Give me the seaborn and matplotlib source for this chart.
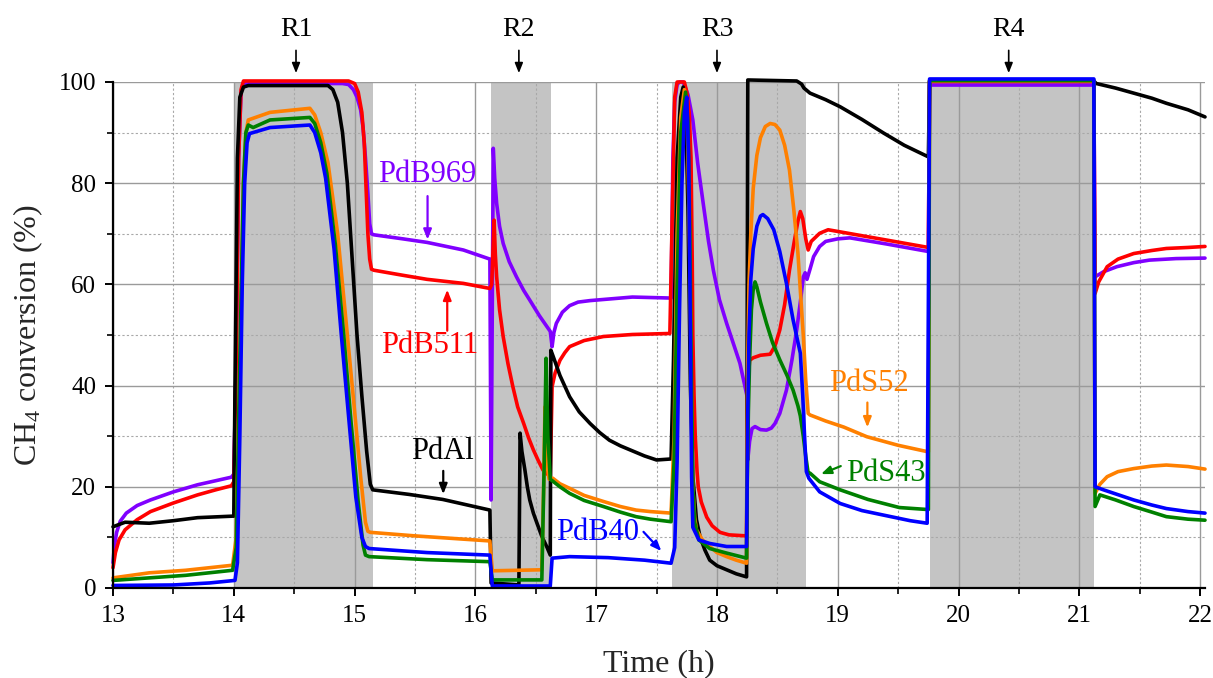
import numpy as np
import pandas as pd
import matplotlib
matplotlib.use('Agg')
import matplotlib.pyplot as plt
import seaborn as sns
from matplotlib.ticker import MultipleLocator

# ---------------- data ----------------
pdb969_t = [13.0, 13.01, 13.03, 13.06, 13.11, 13.2, 13.31, 13.5, 13.7, 13.85, 13.98, 14.0, 14.02, 14.04, 14.06,
            14.08, 14.9, 14.95, 14.99, 15.02, 15.05, 15.07, 15.09, 15.11, 15.125, 15.14, 15.16, 15.4, 15.6,
            15.9, 16.12, 16.13, 16.148, 16.16, 16.176, 16.2, 16.23, 16.28, 16.34, 16.4, 16.45, 16.53, 16.62,
            16.635, 16.65, 16.67, 16.72, 16.78, 16.85, 16.95, 17.1, 17.3, 17.62, 17.635, 17.65, 17.67, 17.69,
            17.72, 17.76, 17.80, 17.84, 17.886, 17.93, 17.97, 18.02, 18.08, 18.14, 18.19, 18.25, 18.255, 18.27,
            18.29, 18.315, 18.36, 18.41, 18.45, 18.48, 18.52, 18.575, 18.62, 18.66, 18.69, 18.715, 18.73, 18.745,
            18.77, 18.80, 18.85, 18.9, 19.0, 19.1, 19.4, 19.75, 19.76, 21.12, 21.13, 21.2, 21.31, 21.45,
            21.58, 21.8, 22.04]
pdb969_v = [5, 8, 11, 13.2, 14.8, 16.3, 17.4, 19, 20.4, 21.2, 21.9, 22.5, 45, 85, 98,
            99.7, 99.7, 99.5, 98.5, 97, 94.5, 91, 85, 78, 72, 70, 69.8, 69, 68.3,
            66.8, 65, 17.4, 86.9, 81, 76, 71.5, 68.1, 64.5, 61.5, 58.8, 56.9, 53.8, 50.7,
            47.7, 50.5, 52.3, 54.5, 55.8, 56.5, 56.8, 57.1, 57.5, 57.3, 85, 96, 99.5, 100,
            100, 97.5, 92.5, 84, 76, 68.5, 62.8, 57, 52.3, 48, 44.4, 37.8, 25.3, 29,
            31.5, 31.9, 31.3, 31.2, 31.6, 32.5, 34.5, 39.1, 45, 51, 56.5, 61.5, 62.3, 61,
            63, 65.5, 67.5, 68.5, 69, 69.2, 68, 66.5, 99.4, 99.4, 61.5, 62.5, 63.5, 64.3,
            64.8, 65.1, 65.2]

pdb511_t = [13.0, 13.02, 13.05, 13.1, 13.2, 13.31, 13.5, 13.7, 13.85, 13.98, 14.0, 14.02, 14.04, 14.06, 14.08,
            14.95, 15.0, 15.03, 15.06, 15.08, 15.09, 15.1, 15.11, 15.125, 15.14, 15.16, 15.4, 15.6, 15.9,
            16.12, 16.135, 16.155, 16.165, 16.176, 16.2, 16.23, 16.27, 16.31, 16.35, 16.4, 16.44, 16.48, 16.52,
            16.56, 16.62, 16.635, 16.66, 16.70, 16.74, 16.78, 16.9, 17.06, 17.3, 17.61, 17.635, 17.65, 17.67,
            17.73, 17.75, 17.77, 17.785, 17.795, 17.80, 17.81, 17.82, 17.835, 17.845, 17.87, 17.915, 17.96, 18.025,
            18.1, 18.245, 18.255, 18.27, 18.3, 18.36, 18.44, 18.48, 18.52, 18.56, 18.60, 18.64, 18.67, 18.69,
            18.71, 18.735, 18.755, 18.78, 18.85, 18.92, 19.3, 19.75, 19.76, 21.12, 21.13, 21.16, 21.23, 21.32,
            21.45, 21.6, 21.72, 21.9, 22.04]
pdb511_v = [4, 7, 9.5, 11.5, 13.5, 15.1, 16.8, 18.4, 19.4, 20.2, 21, 45, 85, 98.5, 100.2,
            100.2, 99.7, 98, 94, 88, 82, 76, 70, 65, 63, 62.8, 61.8, 61, 60.2,
            59.2, 60, 72.7, 66, 61.5, 55, 49.7, 44.3, 39.8, 35.8, 32.5, 29.7, 27.3, 25.2,
            23.3, 22, 39.8, 42.5, 45, 46.5, 47.7, 48.9, 49.7, 50.1, 50.3, 80, 97, 100,
            100, 98, 94, 85, 65, 50, 38, 30, 23, 20, 17, 14, 12.3, 11,
            10.5, 10.3, 40, 45, 45.5, 46, 46.2, 47.8, 51, 56, 62.8, 68.5, 72.5, 74.4,
            73, 69, 66.8, 68.5, 70.1, 70.8, 69.2, 67.3, 100.1, 100.1, 58.2, 60.5, 63.5, 65,
            66.1, 66.7, 67.1, 67.3, 67.5]

pdal_t = [13.0, 13.1, 13.3, 13.5, 13.7, 13.99, 14.0, 14.01, 14.03, 14.05, 14.08, 14.12, 14.78, 14.82, 14.86,
          14.9, 14.94, 14.98, 15.02, 15.06, 15.1, 15.13, 15.15, 15.45, 15.73, 16.12, 16.13, 16.36, 16.37,
          16.385, 16.41, 16.43, 16.45, 16.48, 16.51, 16.55, 16.59, 16.62, 16.625, 16.645, 16.7, 16.78, 16.86,
          16.95, 17.03, 17.11, 17.2, 17.28, 17.4, 17.5, 17.62, 17.64, 17.67, 17.70, 17.72, 17.74, 17.76,
          17.78, 17.80, 17.83, 17.86, 17.9, 17.94, 18.0, 18.08, 18.16, 18.245, 18.255, 18.66, 18.70, 18.72,
          18.74, 18.77, 18.9, 19.02, 19.2, 19.38, 19.55, 19.75, 19.76, 21.12, 21.14, 21.3, 21.45, 21.6,
          21.72, 21.9, 22.04]
pdal_v = [12.1, 13, 12.8, 13.3, 13.9, 14.2, 14.2, 40, 85, 97, 99, 99.3, 99.3, 98.5, 96,
          90, 80, 65, 50, 38, 27, 20.5, 19.4, 18.5, 17.5, 15.4, 1, 0.6, 30.6,
          27, 23.3, 20, 17.4, 14.8, 12.8, 10.2, 8.2, 6.5, 47, 45.7, 42, 37.8, 34.8,
          32.5, 30.7, 29.2, 28.1, 27.3, 26.1, 25.3, 25.5, 45, 85, 97, 99, 95, 75,
          40, 22, 13.5, 10.1, 7.5, 5.5, 4.4, 3.6, 2.8, 2.2, 100.4, 100.2, 99.6, 98.8,
          98.4, 97.8, 96.5, 95.1, 92.6, 89.9, 87.5, 85.2, 100.2, 100.2, 99.7, 98.8, 97.8, 96.8,
          95.8, 94.5, 93.1]

pds52_t = [13.0, 13.3, 13.6, 13.99, 14.02, 14.05, 14.08, 14.1, 14.12, 14.3, 14.63, 14.67, 14.72, 14.78, 14.86,
           14.94, 15.0, 15.05, 15.09, 15.11, 15.13, 15.5, 16.12, 16.14, 16.55, 16.565, 16.576, 16.59, 16.61,
           16.64, 16.7, 16.78, 16.9, 17.06, 17.2, 17.33, 17.45, 17.62, 17.645, 17.67, 17.70, 17.73, 17.755,
           17.775, 17.79, 17.80, 17.815, 17.83, 17.88, 17.94, 18.0, 18.08, 18.16, 18.245, 18.25, 18.255, 18.265,
           18.28, 18.30, 18.33, 18.36, 18.40, 18.44, 18.48, 18.52, 18.56, 18.60, 18.635, 18.67, 18.695, 18.715,
           18.735, 18.755, 18.77, 18.9, 19.05, 19.24, 19.5, 19.75, 19.76, 21.12, 21.13, 21.17, 21.23, 21.32,
           21.45, 21.6, 21.72, 21.9, 22.04]
pds52_v = [2, 3, 3.5, 4.5, 10, 45, 80, 90, 92.5, 94, 94.8, 93.5, 90, 84, 70,
           50, 35, 22, 13, 11.2, 11, 10.3, 9.3, 3.4, 3.6, 20, 35.8, 25, 21.5,
           21.7, 20.6, 19.7, 18.3, 17.1, 16.1, 15.4, 15.1, 14.8, 30, 70, 93, 98.5, 92,
           65, 35, 20, 14, 11.5, 9.5, 8.2, 7, 6.2, 5.5, 4.9, 30, 45, 60,
           70, 79, 85.5, 89, 91.2, 91.8, 91.6, 90.5, 87.5, 82.6, 75, 66.2, 57, 49.7,
           41, 34.5, 34.2, 33, 31.8, 29.9, 28.2, 26.9, 100.2, 100.2, 18.7, 20.5, 22, 23,
           23.6, 24.1, 24.3, 24, 23.5]

pds43_t = [13.0, 13.3, 13.6, 13.99, 14.02, 14.05, 14.08, 14.1, 14.12, 14.16, 14.3, 14.63, 14.67, 14.72, 14.77,
           14.84, 14.91, 14.97, 15.03, 15.07, 15.09, 15.12, 15.6, 16.12, 16.14, 16.55, 16.57, 16.585, 16.6,
           16.62, 16.7, 16.78, 16.9, 17.06, 17.2, 17.33, 17.45, 17.62, 17.645, 17.67, 17.70, 17.74, 17.76,
           17.775, 17.79, 17.80, 17.815, 17.85, 17.94, 18.08, 18.245, 18.25, 18.26, 18.27, 18.285, 18.30, 18.315,
           18.33, 18.36, 18.41, 18.46, 18.52, 18.58, 18.63, 18.67, 18.69, 18.715, 18.735, 18.755, 18.77, 18.85,
           19.02, 19.25, 19.51, 19.75, 19.76, 21.12, 21.13, 21.17, 21.3, 21.45, 21.6, 21.72, 21.9, 22.04]
pds43_v = [1.5, 2, 2.5, 3.5, 8, 45, 80, 90, 91.5, 91, 92.5, 93, 91.8, 88, 82,
           68, 50, 33, 17, 8.5, 6.5, 6.2, 5.6, 5.2, 1.6, 1.6, 25, 45.4, 30,
           21.5, 20, 18.7, 17.3, 16.1, 15, 14.1, 13.6, 13.1, 25, 60, 90, 98, 92,
           70, 38, 20, 13, 9.5, 7.8, 6.9, 5.9, 20, 35, 45, 55, 59, 60.5,
           59.5, 56.5, 52.3, 48.5, 45.1, 42, 39.1, 36, 34, 29.9, 26, 22.7, 22.7, 21,
           19.4, 17.5, 15.9, 15.5, 100.3, 100.3, 16.1, 18.4, 17.4, 16.1, 15, 14.1, 13.6, 13.4]

pdb40_t = [13.0, 13.5, 13.8, 14.01, 14.03, 14.05, 14.07, 14.09, 14.11, 14.13, 14.3, 14.63, 14.67, 14.72, 14.76,
           14.83, 14.89, 14.95, 15.01, 15.06, 15.09, 15.12, 15.6, 16.12, 16.14, 16.62, 16.635, 16.78, 17.1,
           17.4, 17.62, 17.65, 17.67, 17.69, 17.71, 17.73, 17.75, 17.765, 17.78, 17.79, 17.80, 17.85, 17.94,
           18.08, 18.245, 18.255, 18.265, 18.28, 18.30, 18.33, 18.36, 18.38, 18.42, 18.47, 18.52, 18.575, 18.63,
           18.69, 18.71, 18.725, 18.74, 18.76, 18.85, 19.02, 19.2, 19.4, 19.6, 19.74, 19.76, 21.12, 21.13,
           21.2, 21.45, 21.6, 21.72, 21.9, 22.04]
pdb40_v = [0.5, 0.6, 1.0, 1.5, 5, 30, 60, 80, 88, 89.8, 91, 91.5, 90, 86, 81,
           67, 50, 34, 18, 10, 8.2, 7.8, 7, 6.5, 0.4, 0.4, 5.9, 6.2, 6,
           5.5, 4.9, 8, 25, 55, 80, 94, 97, 85, 50, 22, 12, 9.5, 8.8,
           8.2, 8.2, 35, 50, 61, 67, 71.5, 73.5, 73.8, 73, 70.8, 66.5, 60.2, 53,
           46.4, 38, 30, 23, 21.7, 19, 16.7, 15.3, 14.3, 13.3, 12.8, 100.6, 100.6, 20,
           19.4, 17.4, 16.4, 15.7, 15.1, 14.8]

series_names = ['PdB969', 'PdB511', 'PdAl', 'PdS52', 'PdS43', 'PdB40']
series_colors = ['#8000ff', '#ff0000', '#000000', '#ff8000', '#008000', '#0000ff']

# shaded reaction periods (start, end) in h
bands_start = [14.0, 16.13, 17.63, 19.76]
bands_end = [15.15, 16.63, 18.74, 21.12]
band_labels = ['R1', 'R2', 'R3', 'R4']
band_label_x = [14.515, 16.36, 18.0, 20.415]

x_ticks = [13, 14, 15, 16, 17, 18, 19, 20, 21, 22]
y_ticks = [0, 20, 40, 60, 80, 100]

# ---------------- build frame ----------------
frames = []
for name, t, v in zip(series_names,
                      [pdb969_t, pdb511_t, pdal_t, pds52_t, pds43_t, pdb40_t],
                      [pdb969_v, pdb511_v, pdal_v, pds52_v, pds43_v, pdb40_v]):
    frames.append(pd.DataFrame({'t': t, 'v': v, 'series': name}))
df = pd.concat(frames, ignore_index=True)

# ---------------- style ----------------
sns.set_theme(style='white')
plt.rcParams['font.family'] = ['Liberation Serif', 'DejaVu Serif']
plt.rcParams['mathtext.fontset'] = 'custom'
plt.rcParams['mathtext.rm'] = 'Liberation Serif'
plt.rcParams['mathtext.it'] = 'Liberation Serif:italic'

fig = plt.figure(figsize=(12.13, 6.78), dpi=100)
ax = fig.add_axes([113 / 1213, 90 / 678, 1092 / 1213, 506 / 678])

for s, e in zip(bands_start, bands_end):
    ax.axvspan(s, e, ymin=0, ymax=1, color='#c4c4c4', lw=0, zorder=1)

sns.lineplot(data=df, x='t', y='v', hue='series', hue_order=series_names,
             palette=dict(zip(series_names, series_colors)), sort=False,
             estimator=None, legend=False, lw=2.6, ax=ax, zorder=3)
for ln in ax.lines:
    ln.set_clip_on(False)
    ln.set_solid_joinstyle('round')

ax.set_xlim(13, 22.04)
ax.set_ylim(0, 100)
ax.set_xticks(x_ticks)
ax.set_yticks(y_ticks)
ax.xaxis.set_minor_locator(MultipleLocator(0.5))
ax.yaxis.set_minor_locator(MultipleLocator(10))

ax.set_axisbelow('line')
ax.grid(which='major', color='#9a9a9a', lw=1.0, ls='-')
ax.grid(which='minor', color='#a8a8a8', lw=0.8, ls=(0, (2, 2)))

for sp in ['top', 'right']:
    ax.spines[sp].set_visible(False)
for sp in ['left', 'bottom']:
    ax.spines[sp].set_color('black')
    ax.spines[sp].set_linewidth(1.6)
    ax.spines[sp].set_zorder(5)

ax.tick_params(which='both', direction='out', bottom=True, left=True, colors='black')
ax.tick_params(which='major', length=6, width=1.4, labelsize=18, pad=6)
ax.tick_params(which='minor', length=4, width=1.2)

ax.set_xlabel('Time (h)', fontsize=23, labelpad=16)
ax.set_ylabel('CH$_\\mathrm{4}$ conversion (%)', fontsize=23, labelpad=10)

# reaction labels
for lab, x in zip(band_labels, band_label_x):
    ax.text(x, 110.3, lab, ha='center', va='center', fontsize=20, color='black', clip_on=False)
    ax.annotate('', xy=(x, 101.2), xytext=(x, 106.8), annotation_clip=False,
                arrowprops=dict(arrowstyle='-|>,head_length=0.5,head_width=0.2', color='black', lw=1.2))

# series labels
ann_text = ['PdB969', 'PdB511', 'PdAl', 'PdB40', 'PdS52', 'PdS43']
ann_color = ['#8000ff', '#ff0000', '#000000', '#0000ff', '#ff8000', '#008000']
ann_text_xy = [(15.597, 81.8), (15.624, 48.0), (15.728, 26.9), (17.01, 11.0), (19.258, 40.5), (19.40, 22.7)]
ann_arrow_from = [(15.604, 78.0), (15.767, 50.3), (15.734, 23.7), (17.376, 11.5), (19.245, 37.2), (19.046, 24.3)]
ann_arrow_to = [(15.604, 68.3), (15.767, 59.5), (15.734, 18.0), (17.555, 6.9), (19.245, 31.2), (18.84, 22.3)]
for txt, c, xy, a0, a1 in zip(ann_text, ann_color, ann_text_xy, ann_arrow_from, ann_arrow_to):
    ax.text(xy[0], xy[1], txt, color=c, fontsize=22, ha='center', va='center', zorder=6)
    ax.annotate('', xy=a1, xytext=a0, zorder=6,
                arrowprops=dict(arrowstyle='-|>,head_length=0.5,head_width=0.2', color=c, lw=1.6))

fig.savefig('out.png', dpi=100, facecolor='white')
